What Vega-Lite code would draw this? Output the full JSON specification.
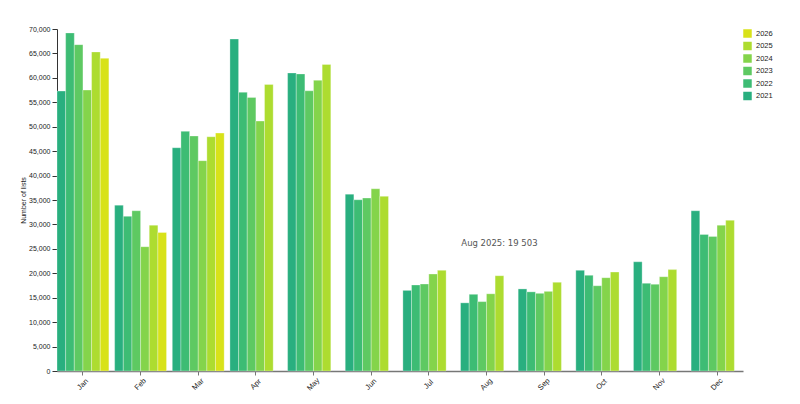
{
  "$schema": "https://vega.github.io/schema/vega-lite/v6.json",
  "width": 686,
  "height": 342,
  "autosize": {"type": "none"},
  "padding": {"left": 57, "top": 29, "right": 57, "bottom": 33},
  "background": "white",
  "config": {
    "view": {"stroke": null},
    "font": "Liberation Sans",
    "axis": {"labelFont": "Liberation Sans", "titleFont": "Liberation Sans", "labelColor": "#222", "titleColor": "#222"}
  },
  "datasets": {
    "lists": [
      {"month": "Jan", "year": "2021", "value": 57300},
      {"month": "Jan", "year": "2022", "value": 69200},
      {"month": "Jan", "year": "2023", "value": 66800},
      {"month": "Jan", "year": "2024", "value": 57500},
      {"month": "Jan", "year": "2025", "value": 65300},
      {"month": "Jan", "year": "2026", "value": 64000},
      {"month": "Feb", "year": "2021", "value": 33950},
      {"month": "Feb", "year": "2022", "value": 31650},
      {"month": "Feb", "year": "2023", "value": 32800},
      {"month": "Feb", "year": "2024", "value": 25450},
      {"month": "Feb", "year": "2025", "value": 29850},
      {"month": "Feb", "year": "2026", "value": 28350},
      {"month": "Mar", "year": "2021", "value": 45700},
      {"month": "Mar", "year": "2022", "value": 49050},
      {"month": "Mar", "year": "2023", "value": 48100},
      {"month": "Mar", "year": "2024", "value": 43050},
      {"month": "Mar", "year": "2025", "value": 47950},
      {"month": "Mar", "year": "2026", "value": 48700},
      {"month": "Apr", "year": "2021", "value": 67950},
      {"month": "Apr", "year": "2022", "value": 57050},
      {"month": "Apr", "year": "2023", "value": 56000},
      {"month": "Apr", "year": "2024", "value": 51150},
      {"month": "Apr", "year": "2025", "value": 58650},
      {"month": "May", "year": "2021", "value": 61000},
      {"month": "May", "year": "2022", "value": 60800},
      {"month": "May", "year": "2023", "value": 57350},
      {"month": "May", "year": "2024", "value": 59500},
      {"month": "May", "year": "2025", "value": 62750},
      {"month": "Jun", "year": "2021", "value": 36200},
      {"month": "Jun", "year": "2022", "value": 35050},
      {"month": "Jun", "year": "2023", "value": 35400},
      {"month": "Jun", "year": "2024", "value": 37300},
      {"month": "Jun", "year": "2025", "value": 35750},
      {"month": "Jul", "year": "2021", "value": 16500},
      {"month": "Jul", "year": "2022", "value": 17600},
      {"month": "Jul", "year": "2023", "value": 17800},
      {"month": "Jul", "year": "2024", "value": 19850},
      {"month": "Jul", "year": "2025", "value": 20600},
      {"month": "Aug", "year": "2021", "value": 13950},
      {"month": "Aug", "year": "2022", "value": 15700},
      {"month": "Aug", "year": "2023", "value": 14200},
      {"month": "Aug", "year": "2024", "value": 15800},
      {"month": "Aug", "year": "2025", "value": 19503},
      {"month": "Sep", "year": "2021", "value": 16800},
      {"month": "Sep", "year": "2022", "value": 16200},
      {"month": "Sep", "year": "2023", "value": 15900},
      {"month": "Sep", "year": "2024", "value": 16300},
      {"month": "Sep", "year": "2025", "value": 18150},
      {"month": "Oct", "year": "2021", "value": 20600},
      {"month": "Oct", "year": "2022", "value": 19580},
      {"month": "Oct", "year": "2023", "value": 17450},
      {"month": "Oct", "year": "2024", "value": 19100},
      {"month": "Oct", "year": "2025", "value": 20250},
      {"month": "Nov", "year": "2021", "value": 22350},
      {"month": "Nov", "year": "2022", "value": 17950},
      {"month": "Nov", "year": "2023", "value": 17750},
      {"month": "Nov", "year": "2024", "value": 19300},
      {"month": "Nov", "year": "2025", "value": 20750},
      {"month": "Dec", "year": "2021", "value": 32800},
      {"month": "Dec", "year": "2022", "value": 27950},
      {"month": "Dec", "year": "2023", "value": 27550},
      {"month": "Dec", "year": "2024", "value": 29850},
      {"month": "Dec", "year": "2025", "value": 30850}
    ],
    "tip": [
      {"month": "Aug", "year": "2025", "value": 19503, "label": "Aug 2025: 19 503"}
    ]
  },
  "encoding": {
    "x": {
      "field": "month", "type": "nominal",
      "sort": ["Jan", "Feb", "Mar", "Apr", "May", "Jun", "Jul", "Aug", "Sep", "Oct", "Nov", "Dec"],
      "scale": {"domain": ["Jan", "Feb", "Mar", "Apr", "May", "Jun", "Jul", "Aug", "Sep", "Oct", "Nov", "Dec"], "paddingInner": 0.1, "paddingOuter": 0},
      "axis": {
        "title": null, "labelAngle": -45, "labelAlign": "center", "labelBaseline": "middle",
        "labelPadding": 9, "labelFontSize": 7.5, "tickSize": 4, "domainColor": "#777", "tickColor": "#777", "domainWidth": 1.5
      }
    },
    "xOffset": {
      "field": "year", "type": "nominal",
      "scale": {"domain": ["2021", "2022", "2023", "2024", "2025", "2026"], "paddingInner": 0, "paddingOuter": 0}
    },
    "y": {
      "field": "value", "type": "quantitative",
      "scale": {"domain": [0, 70000], "nice": false},
      "axis": {
        "title": "Number of lists", "titleFontSize": 7, "titleFontWeight": "normal", "titlePadding": 2,
        "values": [0, 5000, 10000, 15000, 20000, 25000, 30000, 35000, 40000, 45000, 50000, 55000, 60000, 65000, 70000],
        "format": ",d", "labelFontSize": 7, "labelPadding": 2, "tickSize": 5, "grid": false,
        "domainColor": "#333", "tickColor": "#333"
      }
    }
  },
  "layer": [
    {
      "data": {"name": "lists"},
      "mark": {"type": "bar", "stroke": "#ffffff", "strokeWidth": 0.6, "strokeOpacity": 0.5},
      "encoding": {
        "color": {
          "field": "year", "type": "nominal",
          "scale": {
            "domain": ["2026", "2025", "2024", "2023", "2022", "2021"],
            "range": ["#d8e219", "#addc30", "#84d44b", "#5ec962", "#3dbc74", "#29af7f"]
          },
          "legend": {
            "title": null, "orient": "none", "legendX": 686, "legendY": 0,
            "symbolType": "square", "symbolSize": 72, "symbolStrokeWidth": 0,
            "labelFontSize": 7.5, "labelFont": "Liberation Sans", "labelColor": "#222",
            "labelOffset": 4, "rowPadding": 3.5
          }
        }
      }
    },
    {
      "data": {"name": "tip"},
      "mark": {"type": "text", "dy": -33, "font": "DejaVu Sans", "fontSize": 8.5, "color": "#555"},
      "encoding": {"text": {"field": "label"}}
    }
  ]
}
